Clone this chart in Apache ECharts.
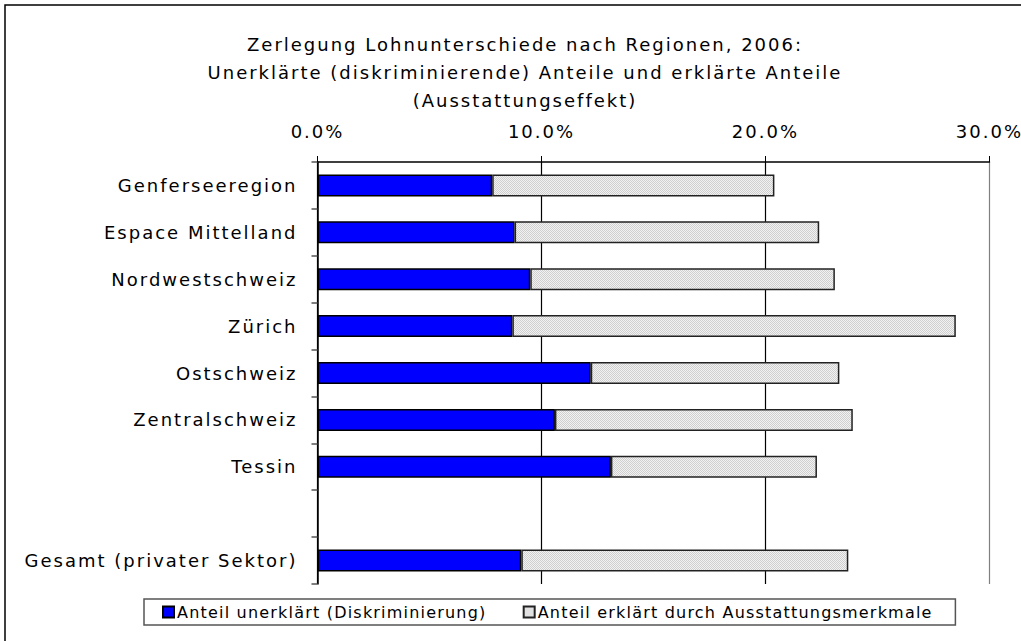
<!DOCTYPE html>
<html>
<head>
<meta charset="utf-8">
<script src="https://cdn.jsdelivr.net/npm/echarts@6/dist/echarts.min.js"></script>
<style>
  html, body { margin: 0; padding: 0; background: #fff; }
  #main { width: 1021px; height: 641px; }
  /* Sperrsatz wie im Original */
  #main text { letter-spacing: 2px; }
  #main text[style*="16px"] { letter-spacing: 1.2px; }
</style>
</head>
<body>
<div id="main"></div>
<script>
// Regionen (leere Zeile als Abstand vor Gesamt)
var regionen = ['Genferseeregion', 'Espace Mittelland', 'Nordwestschweiz', 'Zürich',
  'Ostschweiz', 'Zentralschweiz', 'Tessin', '', 'Gesamt (privater Sektor)'];
// unerklärter Anteil in %
var unerklaert = [7.8, 8.8, 9.5, 8.7, 12.2, 10.6, 13.1, null, 9.1];
// erklärter Anteil in %
var erklaert = [12.6, 13.6, 13.6, 19.8, 11.1, 13.3, 9.2, null, 14.6];
var serienNamen = ['Anteil unerklärt (Diskriminierung)', 'Anteil erklärt durch Ausstattungsmerkmale'];
var titelText = 'Zerlegung Lohnunterschiede nach Regionen, 2006:\nUnerklärte (diskriminierende) Anteile und erklärte Anteile\n(Ausstattungseffekt)';

var font = 'DejaVu Sans';

// kleines Punktmuster fuer die grauen Balken
var muster = document.createElement('canvas');
muster.width = 2;
muster.height = 2;
var mctx = muster.getContext('2d');
mctx.fillStyle = '#f2f2f2';
mctx.fillRect(0, 0, 2, 2);
mctx.fillStyle = '#cfcfcf';
mctx.fillRect(0, 0, 1, 1);
mctx.fillRect(1, 1, 1, 1);

var chart = echarts.init(document.getElementById('main'), null, { renderer: 'svg' });

var option = {
  backgroundColor: '#fff',
  animation: false,
  title: {
    text: titelText,
    left: 520,
    top: 25,
    textAlign: 'center',
    textStyle: {
      fontFamily: font,
      fontSize: 18,
      fontWeight: 'normal',
      color: '#000',
      lineHeight: 28
    }
  },
  graphic: [{
    type: 'rect',
    shape: { x: 5, y: 5, width: 1040, height: 660 },
    style: { fill: null, stroke: '#000', lineWidth: 1.5 },
    silent: true
  }],
  legend: {
    bottom: 16,
    left: 144,
    padding: [5, 72, 5, 18],
    itemGap: 77,
    itemWidth: 11,
    itemHeight: 11,
    borderColor: '#555',
    borderWidth: 1.5,
    icon: 'rect',
    textStyle: { fontFamily: font, fontSize: 16, color: '#000', padding: [0, 0, 0, -2] },
    data: serienNamen
  },
  grid: {
    left: 317.5,
    right: 31.5,
    top: 162,
    bottom: 57,
    containLabel: false
  },
  xAxis: {
    type: 'value',
    position: 'top',
    min: 0,
    max: 30,
    interval: 10,
    axisLine: { show: true, lineStyle: { color: '#000', width: 1.5 } },
    axisTick: { show: true, length: 6, lineStyle: { color: '#000' } },
    axisLabel: {
      margin: 22,
      fontFamily: font,
      fontSize: 18,
      color: '#000',
      formatter: function (v) { return v.toFixed(1) + '%'; }
    },
    splitLine: { show: true, lineStyle: { color: ['#000', '#000', '#000', '#808080'], width: 1.2 } }
  },
  yAxis: {
    type: 'category',
    inverse: true,
    data: regionen,
    axisLine: { show: true, lineStyle: { color: '#000', width: 1.5 } },
    axisTick: { show: true, length: 6, alignWithLabel: false, lineStyle: { color: '#555', width: 1.5 } },
    axisLabel: { margin: 20, fontFamily: font, fontSize: 18, color: '#000' }
  },
  series: [{
    name: serienNamen[0],
    type: 'bar',
    stack: 'lohn',
    barWidth: 22,
    data: unerklaert,
    itemStyle: { color: '#0000ff', borderColor: '#000', borderWidth: 1.5 }
  }, {
    name: serienNamen[1],
    type: 'bar',
    stack: 'lohn',
    barWidth: 22,
    data: erklaert,
    itemStyle: { color: { image: muster, repeat: 'repeat' }, borderColor: '#222', borderWidth: 1.5 }
  }]
};

chart.setOption(option);
</script>
</body>
</html>
